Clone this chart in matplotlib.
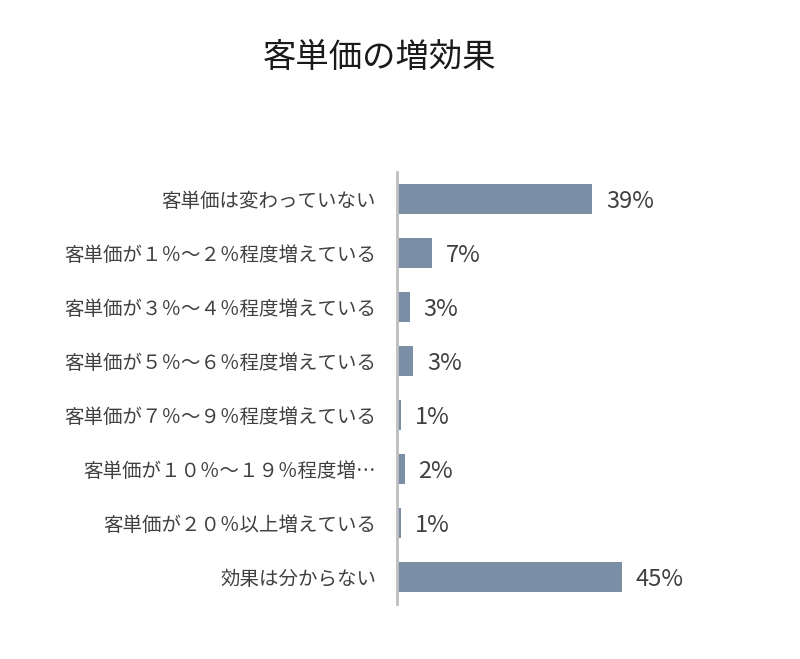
import matplotlib
matplotlib.use("Agg")
import matplotlib.pyplot as plt

plt.rcParams['font.family'] = ['Noto Sans CJK JP', 'DejaVu Sans']

categories = [
    "客単価は変わっていない",
    "客単価が１％～２％程度増えている",
    "客単価が３％～４％程度増えている",
    "客単価が５％～６％程度増えている",
    "客単価が７％～９％程度増えている",
    "客単価が１０％～１９％程度増…",
    "客単価が２０％以上増えている",
    "効果は分からない",
]
values = [39.0, 7.0, 2.5, 3.2, 0.8, 1.5, 0.8, 45.0]
value_labels = ["39%", "7%", "3%", "3%", "1%", "2%", "1%", "45%"]
title = "客単価の増効果"

W, H = 800, 659
fig = plt.figure(figsize=(W / 100, H / 100), dpi=100)
ax = fig.add_axes([397 / W, 1 - 604 / H, 360 / W, 432 / H])

ypos = list(range(len(categories)))
ax.barh(ypos, values, height=0.56, color="#7a8fa6", zorder=2)
ax.set_ylim(len(categories) - 0.5, -0.5)
ax.set_xlim(0, 72)

ax.set_yticks(ypos)
ax.set_yticklabels(categories, fontsize=14, color="#404040")
ax.tick_params(axis='y', length=0, pad=15)
ax.set_xticks([])

for s in ["top", "right", "bottom"]:
    ax.spines[s].set_visible(False)
ax.spines["left"].set_color("#bfbfbf")
ax.spines["left"].set_linewidth(2)

for y, v, lab in zip(ypos, values, value_labels):
    ax.annotate(lab, xy=(v, y), xytext=(10, -2), textcoords="offset points",
                ha="left", va="center", fontsize=17, color="#404040")

fig.text(380 / W, 1 - 58 / H, title, ha="center", va="center", fontsize=24, color="#1a1a1a")

fig.savefig("out.png", dpi=100, facecolor="white")
